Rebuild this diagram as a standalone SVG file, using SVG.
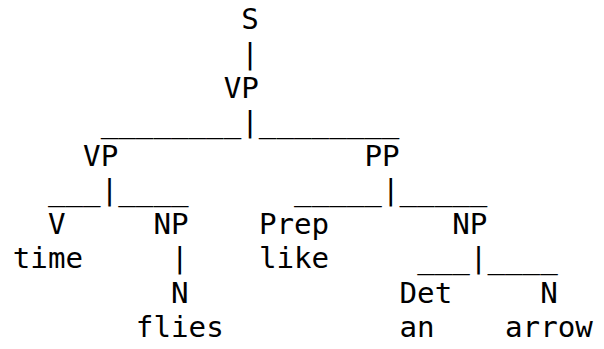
<svg xmlns="http://www.w3.org/2000/svg" width="604" height="349" viewBox="0 0 604 349">
<style>
text { font-family: "DejaVu Sans Mono", monospace; font-size: 29.2px; fill: #000; white-space: pre; }
</style>
<rect width="604" height="349" fill="#fff"/>
<g id="connectors">
<text x="241.34" y="63.55">|</text>
<text x="100.7" y="131.85">________|________</text>
<text x="47.96" y="200.15">___|____</text>
<text x="294.08" y="200.15">_____|_____</text>
<text x="171.02" y="268.45">|</text>
<text x="417.14" y="268.45">___|____</text>
</g>
<g id="node-S"><text x="241.34" y="29.4">S</text></g>
<g id="node-VP"><text x="223.76" y="97.7">VP</text></g>
<g id="node-VP2"><text x="83.12" y="166">VP</text></g>
<g id="node-PP"><text x="364.4" y="166">PP</text></g>
<g id="node-V"><text x="47.96" y="234.3">V</text></g>
<g id="node-NP1"><text x="153.44" y="234.3">NP</text></g>
<g id="node-Prep"><text x="258.92" y="234.3">Prep</text></g>
<g id="node-NP2"><text x="452.3" y="234.3">NP</text></g>
<g id="node-time"><text x="12.8" y="268.45">time</text></g>
<g id="node-like"><text x="258.92" y="268.45">like</text></g>
<g id="node-N1"><text x="171.02" y="302.6">N</text></g>
<g id="node-Det"><text x="399.56" y="302.6">Det</text></g>
<g id="node-N2"><text x="540.2" y="302.6">N</text></g>
<g id="node-flies"><text x="135.86" y="336.75">flies</text></g>
<g id="node-an"><text x="399.56" y="336.75">an</text></g>
<g id="node-arrow"><text x="505.04" y="336.75">arrow</text></g>
</svg>
